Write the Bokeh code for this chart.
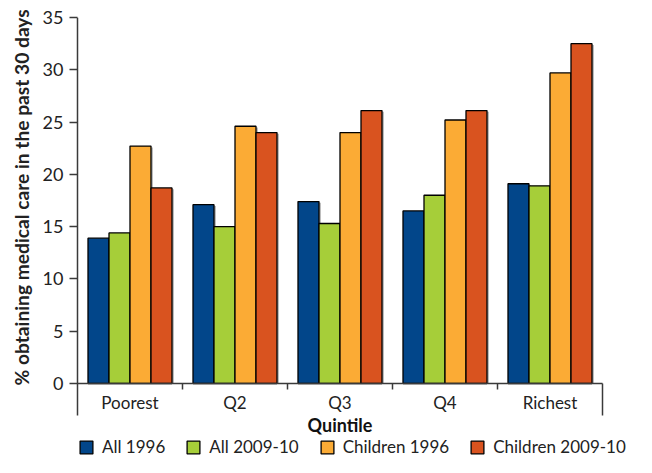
from bokeh.plotting import figure
from bokeh.models import Range1d, FixedTicker, Legend, LegendItem, ColumnDataSource, Title
from bokeh.core.properties import value
from bokeh.embed import file_html
from bokeh.resources import INLINE

# ---- data ----
quintiles = ["Poorest", "Q2", "Q3", "Q4", "Richest"]
series_names = ["All 1996", "All 2009-10", "Children 1996", "Children 2009-10"]
all_1996 = [13.9, 17.1, 17.4, 16.5, 19.1]
all_2009_10 = [14.4, 15.0, 15.3, 18.0, 18.9]
children_1996 = [22.7, 24.6, 24.0, 25.2, 29.7]
children_2009_10 = [18.7, 24.0, 26.1, 26.1, 32.5]
y_tick_values = [0, 5, 10, 15, 20, 25, 30, 35]
y_label = "% obtaining medical care in the past 30 days"
x_label = "Quintile"

series_values = [all_1996, all_2009_10, children_1996, children_2009_10]
colors = ["#02468a", "#a6ce39", "#fbab35", "#d9531f"]

FONT = "Lato"
AXIS_COLOR = "#3a3a3a"
TEXT_COLOR = "#222222"

n = len(quintiles)
# screen layout (px): frame spans the whole lower part so the legend is not clipped
W, H = 636, 457
left, top = 75, 17
px_x = 105.0            # px per category
px_y = 366 / 35.0       # px per percentage point
x_start = -2 / px_x
x_end = x_start + (W - left) / px_x
y_max = 35
y_end_axis = -32 / px_y          # where the axis frame lines stop below zero
y_start = -(H - top - 366) / px_y

p = figure(width=W, height=H, output_backend="svg", toolbar_location=None,
           x_range=Range1d(x_start, x_end), y_range=Range1d(y_start, y_max),
           x_axis_location=None,
           min_border_left=left, min_border_right=0, min_border_top=top, min_border_bottom=0)
p.outline_line_color = None
p.grid.visible = False

# y axis: ticks and labels only; its line is drawn below as a segment
ya = p.yaxis[0]
ya.ticker = FixedTicker(ticks=y_tick_values, minor_ticks=[])
ya.major_tick_out = 6
ya.major_tick_in = 2
ya.minor_tick_out = 0
ya.minor_tick_in = 0
ya.axis_line_color = None
ya.major_tick_line_color = AXIS_COLOR
ya.major_tick_line_width = 1.5
ya.major_label_text_font = FONT
ya.major_label_text_font_size = "18px"
ya.major_label_text_color = TEXT_COLOR
ya.major_label_standoff = 6

# y title, starting just above the bottom of the axis line
p.add_layout(Title(text=y_label, align="left", offset=72, text_font=FONT,
                   text_font_size="19.2px", text_font_style="bold",
                   text_color=TEXT_COLOR, standoff=14), "left")

# bars
group_width = 0.8
bar_w = group_width / len(series_names)
centers = [i + 0.5 for i in range(n)]
bar_renderers = []
for k, (name, vals, col) in enumerate(zip(series_names, series_values, colors)):
    xs = [c - group_width / 2 + bar_w * (k + 0.5) for c in centers]
    src = ColumnDataSource(dict(x=xs, top=vals))
    p.vbar(x=[x + 0.018 for x in xs], top=[v - 0.12 for v in vals], bottom=0,
           width=bar_w, fill_color="#b5b5b5", line_color=None)
    r = p.vbar(x="x", top="top", bottom=0, width=bar_w, source=src,
               fill_color=col, line_color="black", line_width=1.3)
    bar_renderers.append((name, r))

# axis lines, baseline and category separators
tick_len = 6 / px_y
p.segment(x0=[0], y0=[y_end_axis], x1=[0], y1=[y_max], line_color=AXIS_COLOR, line_width=1.5)
p.segment(x0=[0], y0=[0], x1=[n], y1=[0], line_color=AXIS_COLOR, line_width=1.5)
p.segment(x0=list(range(1, n)), y0=[0] * (n - 1), x1=list(range(1, n)),
          y1=[-tick_len] * (n - 1), line_color=AXIS_COLOR, line_width=1.5)
p.segment(x0=[n], y0=[0], x1=[n], y1=[y_end_axis], line_color=AXIS_COLOR, line_width=1.5)

# category labels and x title
p.text(x=centers, y=[0] * n, text=quintiles, text_align="center",
       text_baseline="alphabetic", y_offset=19, text_font=value(FONT),
       text_font_size="17px", text_color=TEXT_COLOR)
p.text(x=[n / 2], y=[0], text=[x_label], text_align="center",
       text_baseline="alphabetic", y_offset=41, text_font=value(FONT),
       text_font_size="18px", text_font_style="bold", text_color="#111111")

# legend inside the (extended) frame, under the x title
legend = Legend(items=[LegendItem(label=nm, renderers=[r]) for nm, r in bar_renderers],
                orientation="horizontal", location=(3, 0),
                glyph_width=16, glyph_height=16, label_standoff=8, spacing=20,
                padding=0, margin=0, label_height=16,
                label_text_font=FONT, label_text_font_size="17px",
                label_text_color=TEXT_COLOR,
                border_line_color=None, background_fill_alpha=0)
p.add_layout(legend, "center")

open("out.html", "w").write(file_html(p, INLINE))
